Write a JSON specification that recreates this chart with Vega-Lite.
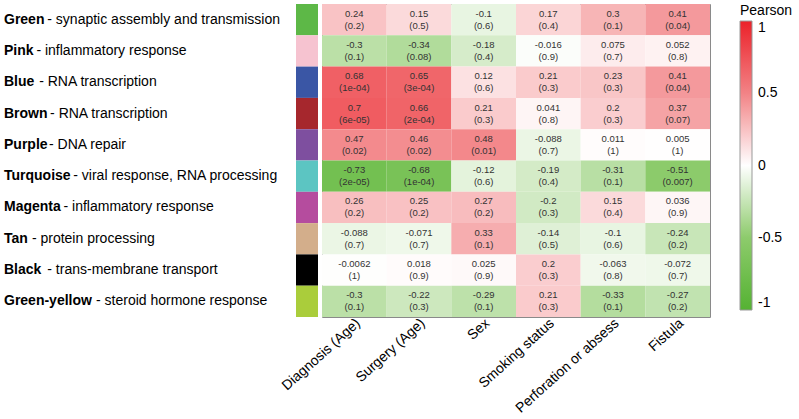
{
  "$schema": "https://vega.github.io/schema/vega-lite/v6.json",
  "padding": {"left": 4, "top": 3, "right": 5, "bottom": 0},
  "bounds": "flush",
  "config": {
    "font": "Liberation Sans",
    "view": {"stroke": null},
    "concat": {"spacing": 4}
  },
  "datasets": {
    "modules": [
      {"name": "Green", "desc": "- synaptic assembly and transmission"},
      {"name": "Pink", "desc": "- inflammatory response"},
      {"name": "Blue", "desc": "- RNA transcription"},
      {"name": "Brown", "desc": "- RNA transcription"},
      {"name": "Purple", "desc": "- DNA repair"},
      {"name": "Turquoise", "desc": "- viral response, RNA processing"},
      {"name": "Magenta", "desc": "- inflammatory response"},
      {"name": "Tan", "desc": "- protein processing"},
      {"name": "Black", "desc": "- trans-membrane transport"},
      {"name": "Green-yellow", "desc": "- steroid hormone response"}
    ],
    "cells": [
      {"module": "Green", "trait": "Diagnosis (Age)", "r": 0.24, "rt": "0.24", "p": "(0.2)"},
      {"module": "Green", "trait": "Surgery (Age)", "r": 0.15, "rt": "0.15", "p": "(0.5)"},
      {"module": "Green", "trait": "Sex", "r": -0.1, "rt": "-0.1", "p": "(0.6)"},
      {"module": "Green", "trait": "Smoking status", "r": 0.17, "rt": "0.17", "p": "(0.4)"},
      {"module": "Green", "trait": "Perforation or absess", "r": 0.3, "rt": "0.3", "p": "(0.1)"},
      {"module": "Green", "trait": "Fistula", "r": 0.41, "rt": "0.41", "p": "(0.04)"},
      {"module": "Pink", "trait": "Diagnosis (Age)", "r": -0.3, "rt": "-0.3", "p": "(0.1)"},
      {"module": "Pink", "trait": "Surgery (Age)", "r": -0.34, "rt": "-0.34", "p": "(0.08)"},
      {"module": "Pink", "trait": "Sex", "r": -0.18, "rt": "-0.18", "p": "(0.4)"},
      {"module": "Pink", "trait": "Smoking status", "r": -0.016, "rt": "-0.016", "p": "(0.9)"},
      {"module": "Pink", "trait": "Perforation or absess", "r": 0.075, "rt": "0.075", "p": "(0.7)"},
      {"module": "Pink", "trait": "Fistula", "r": 0.052, "rt": "0.052", "p": "(0.8)"},
      {"module": "Blue", "trait": "Diagnosis (Age)", "r": 0.68, "rt": "0.68", "p": "(1e-04)"},
      {"module": "Blue", "trait": "Surgery (Age)", "r": 0.65, "rt": "0.65", "p": "(3e-04)"},
      {"module": "Blue", "trait": "Sex", "r": 0.12, "rt": "0.12", "p": "(0.6)"},
      {"module": "Blue", "trait": "Smoking status", "r": 0.21, "rt": "0.21", "p": "(0.3)"},
      {"module": "Blue", "trait": "Perforation or absess", "r": 0.23, "rt": "0.23", "p": "(0.3)"},
      {"module": "Blue", "trait": "Fistula", "r": 0.41, "rt": "0.41", "p": "(0.04)"},
      {"module": "Brown", "trait": "Diagnosis (Age)", "r": 0.7, "rt": "0.7", "p": "(6e-05)"},
      {"module": "Brown", "trait": "Surgery (Age)", "r": 0.66, "rt": "0.66", "p": "(2e-04)"},
      {"module": "Brown", "trait": "Sex", "r": 0.21, "rt": "0.21", "p": "(0.3)"},
      {"module": "Brown", "trait": "Smoking status", "r": 0.041, "rt": "0.041", "p": "(0.8)"},
      {"module": "Brown", "trait": "Perforation or absess", "r": 0.2, "rt": "0.2", "p": "(0.3)"},
      {"module": "Brown", "trait": "Fistula", "r": 0.37, "rt": "0.37", "p": "(0.07)"},
      {"module": "Purple", "trait": "Diagnosis (Age)", "r": 0.47, "rt": "0.47", "p": "(0.02)"},
      {"module": "Purple", "trait": "Surgery (Age)", "r": 0.46, "rt": "0.46", "p": "(0.02)"},
      {"module": "Purple", "trait": "Sex", "r": 0.48, "rt": "0.48", "p": "(0.01)"},
      {"module": "Purple", "trait": "Smoking status", "r": -0.088, "rt": "-0.088", "p": "(0.7)"},
      {"module": "Purple", "trait": "Perforation or absess", "r": 0.011, "rt": "0.011", "p": "(1)"},
      {"module": "Purple", "trait": "Fistula", "r": 0.005, "rt": "0.005", "p": "(1)"},
      {"module": "Turquoise", "trait": "Diagnosis (Age)", "r": -0.73, "rt": "-0.73", "p": "(2e-05)"},
      {"module": "Turquoise", "trait": "Surgery (Age)", "r": -0.68, "rt": "-0.68", "p": "(1e-04)"},
      {"module": "Turquoise", "trait": "Sex", "r": -0.12, "rt": "-0.12", "p": "(0.6)"},
      {"module": "Turquoise", "trait": "Smoking status", "r": -0.19, "rt": "-0.19", "p": "(0.4)"},
      {"module": "Turquoise", "trait": "Perforation or absess", "r": -0.31, "rt": "-0.31", "p": "(0.1)"},
      {"module": "Turquoise", "trait": "Fistula", "r": -0.51, "rt": "-0.51", "p": "(0.007)"},
      {"module": "Magenta", "trait": "Diagnosis (Age)", "r": 0.26, "rt": "0.26", "p": "(0.2)"},
      {"module": "Magenta", "trait": "Surgery (Age)", "r": 0.25, "rt": "0.25", "p": "(0.2)"},
      {"module": "Magenta", "trait": "Sex", "r": 0.27, "rt": "0.27", "p": "(0.2)"},
      {"module": "Magenta", "trait": "Smoking status", "r": -0.2, "rt": "-0.2", "p": "(0.3)"},
      {"module": "Magenta", "trait": "Perforation or absess", "r": 0.15, "rt": "0.15", "p": "(0.4)"},
      {"module": "Magenta", "trait": "Fistula", "r": 0.036, "rt": "0.036", "p": "(0.9)"},
      {"module": "Tan", "trait": "Diagnosis (Age)", "r": -0.088, "rt": "-0.088", "p": "(0.7)"},
      {"module": "Tan", "trait": "Surgery (Age)", "r": -0.071, "rt": "-0.071", "p": "(0.7)"},
      {"module": "Tan", "trait": "Sex", "r": 0.33, "rt": "0.33", "p": "(0.1)"},
      {"module": "Tan", "trait": "Smoking status", "r": -0.14, "rt": "-0.14", "p": "(0.5)"},
      {"module": "Tan", "trait": "Perforation or absess", "r": -0.1, "rt": "-0.1", "p": "(0.6)"},
      {"module": "Tan", "trait": "Fistula", "r": -0.24, "rt": "-0.24", "p": "(0.2)"},
      {"module": "Black", "trait": "Diagnosis (Age)", "r": -0.0062, "rt": "-0.0062", "p": "(1)"},
      {"module": "Black", "trait": "Surgery (Age)", "r": 0.018, "rt": "0.018", "p": "(0.9)"},
      {"module": "Black", "trait": "Sex", "r": 0.025, "rt": "0.025", "p": "(0.9)"},
      {"module": "Black", "trait": "Smoking status", "r": 0.2, "rt": "0.2", "p": "(0.3)"},
      {"module": "Black", "trait": "Perforation or absess", "r": -0.063, "rt": "-0.063", "p": "(0.8)"},
      {"module": "Black", "trait": "Fistula", "r": -0.072, "rt": "-0.072", "p": "(0.7)"},
      {"module": "Green-yellow", "trait": "Diagnosis (Age)", "r": -0.3, "rt": "-0.3", "p": "(0.1)"},
      {"module": "Green-yellow", "trait": "Surgery (Age)", "r": -0.22, "rt": "-0.22", "p": "(0.3)"},
      {"module": "Green-yellow", "trait": "Sex", "r": -0.29, "rt": "-0.29", "p": "(0.1)"},
      {"module": "Green-yellow", "trait": "Smoking status", "r": 0.21, "rt": "0.21", "p": "(0.3)"},
      {"module": "Green-yellow", "trait": "Perforation or absess", "r": -0.33, "rt": "-0.33", "p": "(0.1)"},
      {"module": "Green-yellow", "trait": "Fistula", "r": -0.27, "rt": "-0.27", "p": "(0.2)"}
    ]
  },
  "resolve": {"scale": {"color": "independent", "x": "independent"}},
  "hconcat": [
    {
      "width": 288,
      "height": 313,
      "data": {"name": "modules"},
      "encoding": {
        "y": {"field": "name", "type": "nominal", "sort": null, "axis": null},
        "x": {"datum": 0, "type": "quantitative", "scale": {"domain": [0, 1]}, "axis": null}
      },
      "layer": [
        {
          "mark": {"type": "text", "align": "left", "baseline": "middle", "fontSize": 14, "fontWeight": "bold", "color": "#000"},
          "encoding": {"text": {"field": "name"}}
        },
        {
          "mark": {
            "type": "text", "align": "left", "baseline": "middle", "fontSize": 14, "color": "#000",
            "dx": {"expr": "3.6 + 8.1*length(datum.name) - 3.6*length(replace(datum.name, regexp('[^ilrt-]', 'g'), '')) + 2.8*length(replace(datum.name, regexp('[^GBMw]', 'g'), ''))"}
          },
          "encoding": {"text": {"field": "desc"}}
        }
      ]
    },
    {
      "width": 22,
      "height": 313,
      "data": {"name": "modules"},
      "mark": {"type": "rect"},
      "encoding": {
        "y": {"field": "name", "type": "nominal", "sort": null, "axis": null},
        "color": {
          "field": "name", "type": "nominal", "legend": null,
          "scale": {
            "domain": ["Green", "Pink", "Blue", "Brown", "Purple", "Turquoise", "Magenta", "Tan", "Black", "Green-yellow"],
            "range": ["#5DB847", "#F6C3D0", "#3A56A5", "#A6272D", "#7E4F9F", "#5CC5C2", "#B54C9E", "#D3AE8B", "#000000", "#AACD3B"]
          }
        }
      }
    },
    {
      "width": 388,
      "height": 313,
      "data": {"name": "cells"},
      "view": {"stroke": "#8a8a8a", "strokeWidth": 1},
      "encoding": {
        "x": {
          "field": "trait", "type": "nominal", "sort": null,
          "axis": {"title": null, "labelAngle": -42, "labelAlign": "right", "labelBaseline": "middle", "labelFontSize": 14, "labelColor": "#000", "domain": false, "ticks": false, "labelPadding": 4, "labelOffset": 4}
        },
        "y": {"field": "module", "type": "nominal", "sort": null, "axis": null}
      },
      "layer": [
        {
          "mark": {"type": "rect"},
          "encoding": {
            "color": {
              "field": "r", "type": "quantitative",
              "scale": {"domain": [-1, -0.5, 0, 0.5, 1], "range": ["#55B232", "#8DCB6C", "#FFFFFF", "#F28386", "#EC2129"], "interpolate": "rgb"},
              "legend": {
                "title": "Pearson", "titleFontSize": 14, "titleFontWeight": "normal", "titleColor": "#000", "titlePadding": 3,
                "gradientLength": 289, "gradientThickness": 12, "values": [1, 0.5, 0, -0.5, -1],
                "labelExpr": "'' + datum.value",
                "labelFontSize": 14, "labelColor": "#000", "labelOffset": 6, "offset": 30, "gradientStrokeColor": "#999", "gradientStrokeWidth": 1
              }
            }
          }
        },
        {
          "mark": {"type": "text", "fontSize": 9.5, "color": "#333", "dy": -6},
          "encoding": {"text": {"field": "rt"}}
        },
        {
          "mark": {"type": "text", "fontSize": 9.5, "color": "#333", "dy": 6},
          "encoding": {"text": {"field": "p"}}
        }
      ]
    }
  ]
}
